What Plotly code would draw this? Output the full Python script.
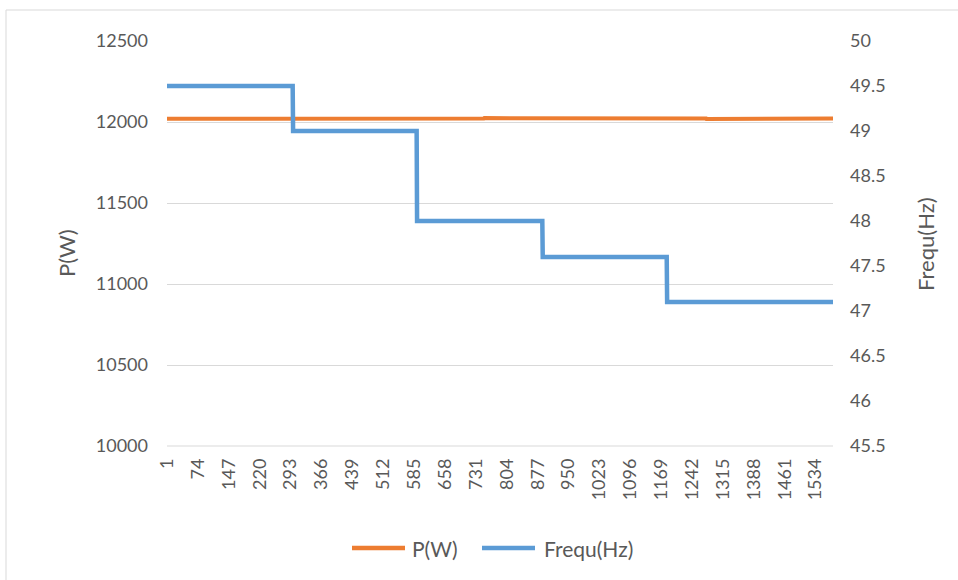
import numpy as np
import plotly.graph_objects as go

# ---- data ----
n_points = 1575
freq_levels = [49.5, 49.0, 48.0, 47.6, 47.1]
freq_step_starts = [1, 299, 592, 889, 1183]
# P(W) readings, one per block of 75 samples
p_block_size = 75
p_levels = [12020, 12018, 12021, 12017, 12019, 12016, 12019, 12021, 12018, 12022,
            12024, 12022, 12025, 12021, 12023, 12020, 12022, 12018, 12021, 12023, 12022]
x_tick_vals = list(range(1, 1535, 73))
x_tick_text = [str(v) for v in x_tick_vals]
p_tick_vals = [10000, 10500, 11000, 11500, 12000, 12500]
p_tick_text = ["10000", "10500", "11000", "11500", "12000", "12500"]
f_tick_vals = [45.5, 46, 46.5, 47, 47.5, 48, 48.5, 49, 49.5, 50]
f_tick_text = ["45.5", "46", "46.5", "47", "47.5", "48", "48.5", "49", "49.5", "50"]
series_names = ["P(W)", "Frequ(Hz)"]
series_colors = ["#ED7D31", "#5B9BD5"]

x = np.arange(1, n_points + 1)
freq = np.array(freq_levels)[np.searchsorted(freq_step_starts, x, side="right") - 1]
power = np.repeat(p_levels, p_block_size)[:n_points]

W, H = 958, 580
L, R, T, B = 167, 833, 41, 446
font = "Lato, Open Sans, sans-serif"
grey = "#595959"
tick_size = 18

fig = go.Figure()
fig.add_trace(go.Scatter(x=x, y=power, name=series_names[0], mode="lines",
                         line=dict(color=series_colors[0], width=4), yaxis="y",
                         showlegend=False))
fig.add_trace(go.Scatter(x=x, y=freq, name=series_names[1], mode="lines",
                         line=dict(color=series_colors[1], width=4.5), yaxis="y2",
                         showlegend=False))

def px(xp):
    return (xp - L) / (R - L)

def py(yp):
    return (B - yp) / (B - T)

# manual legend (Excel-style long line samples)
legend_y = 548
legend_items = [(352, 405, 410), (482, 535, 542)]
shapes = [
    dict(type="line", xref="paper", yref="paper", x0=0, x1=1, y0=0, y1=0,
         line=dict(color="#D9D9D9", width=1)),
    dict(type="rect", xref="paper", yref="paper", x0=px(6), x1=px(990),
         y0=py(10), y1=py(620), line=dict(color="#D9D9D9", width=1),
         fillcolor="rgba(0,0,0,0)", layer="below"),
]
annotations = [
    dict(text="P(W)", x=px(66), y=py(253), xref="paper", yref="paper",
         xanchor="center", yanchor="middle",
         showarrow=False, textangle=-90, font=dict(size=22, color=grey)),
    dict(text="Frequ(Hz)", x=px(925), y=py(244), xref="paper", yref="paper",
         xanchor="center", yanchor="middle",
         showarrow=False, textangle=-90, font=dict(size=22, color=grey)),
]
for (x0, x1, xt), name, color in zip(legend_items, series_names, series_colors):
    shapes.append(dict(type="line", xref="paper", yref="paper", x0=px(x0), x1=px(x1),
                       y0=py(legend_y), y1=py(legend_y),
                       line=dict(color=color, width=4.5)))
    annotations.append(dict(text=name, x=px(xt), y=py(legend_y), xref="paper", yref="paper",
                            xanchor="left", yanchor="middle", showarrow=False,
                            font=dict(size=21, color=grey)))

fig.update_layout(
    width=W, height=H,
    margin=dict(l=L, r=W - R, t=T, b=H - B),
    paper_bgcolor="white", plot_bgcolor="white",
    font=dict(family=font, size=tick_size, color=grey),
    showlegend=False,
    xaxis=dict(range=[1, n_points], tickvals=x_tick_vals, ticktext=x_tick_text,
               tickangle=-90, showgrid=False, zeroline=False, showline=False,
               ticks="", ticklabelstandoff=8, tickfont=dict(size=tick_size, color=grey)),
    yaxis=dict(range=[10000, 12500], tickvals=p_tick_vals, ticktext=p_tick_text,
               showgrid=True, gridcolor="#D9D9D9", gridwidth=1, zeroline=False,
               showline=False, ticks="", ticklabelstandoff=18,
               tickfont=dict(size=tick_size, color=grey)),
    yaxis2=dict(range=[45.5, 50], tickvals=f_tick_vals, ticktext=f_tick_text,
                overlaying="y", side="right", showgrid=False, zeroline=False,
                showline=False, ticks="", ticklabelstandoff=16,
                tickfont=dict(size=tick_size, color=grey)),
    annotations=annotations,
    shapes=shapes,
)

fig.write_html("out.html", config={"displayModeBar": False},
               post_script="document.body.style.margin='0';")
